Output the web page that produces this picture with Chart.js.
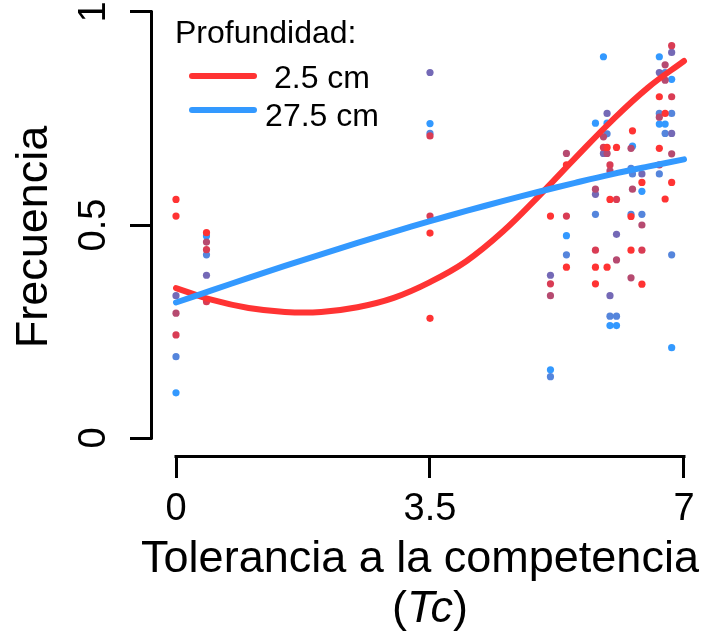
<!DOCTYPE html>
<html>
<head>
<meta charset="utf-8">
<script src="https://cdn.jsdelivr.net/npm/chart.js@4"></script>
<style>
  html, body { margin: 0; padding: 0; background: #fff; }
  canvas { display: block; }
</style>
</head>
<body>
<canvas id="grafica" width="710" height="637"></canvas>
<script>
// ticks de los ejes
const ticksX = [0, 3.5, 7];
const ticksY = [0, 0.5, 1];

// curvas ajustadas
const tcCurva = [0, 0.5, 1, 1.5, 2, 2.5, 3, 3.5, 4, 4.5, 5, 5.5, 6, 6.5, 7];
const curva25 = [0.352, 0.324, 0.305, 0.296, 0.296, 0.307, 0.329, 0.366, 0.415, 0.484, 0.568, 0.657, 0.744, 0.822, 0.885];
const curva275 = [0.318, 0.347, 0.376, 0.404, 0.431, 0.458, 0.484, 0.509, 0.533, 0.556, 0.578, 0.599, 0.619, 0.637, 0.654];
const profundidades = ['2.5 cm', '27.5 cm'];

// puntos observados [Tc, frecuencia], agrupados por color
const ptsRojo = [[0, 0.560], [0, 0.521], [0.42, 0.482], [3.5, 0.481], [3.5, 0.281], [5.16, 0.521], [5.38, 0.641], [5.38, 0.401],
  [5.78, 0.401], [5.78, 0.362], [5.94, 0.682], [5.94, 0.401], [5.98, 0.560], [6.07, 0.682], [6.29, 0.721], [6.27, 0.52],
  [6.27, 0.441], [6.42, 0.600], [6.42, 0.361], [6.66, 0.801], [6.66, 0.680], [6.74, 0.762], [6.74, 0.561], [6.83, 0.600]];
const ptsRojoMalva = [[0, 0.242], [0.42, 0.442], [0.42, 0.32], [3.5, 0.709], [3.5, 0.521], [5.16, 0.362], [5.38, 0.521],
  [5.78, 0.441], [5.89, 0.682], [5.98, 0.641], [6.07, 0.560], [6.42, 0.441], [6.83, 0.921], [6.83, 0.801]];
const ptsMalva = [[0, 0.293], [0.42, 0.460], [5.16, 0.334], [5.38, 0.668], [5.78, 0.584], [5.89, 0.707], [5.94, 0.668],
  [5.98, 0.627], [6.07, 0.418], [6.27, 0.680], [6.29, 0.584], [6.27, 0.376], [6.42, 0.500], [6.66, 0.753], [6.66, 0.641],
  [6.74, 0.876], [6.74, 0.840], [6.83, 0.667]];
const ptsMorado = [[0, 0.334], [0.42, 0.382], [3.5, 0.858], [5.16, 0.382], [5.78, 0.572], [5.89, 0.668], [5.94, 0.762],
  [5.98, 0.334], [6.07, 0.478], [6.42, 0.620], [6.66, 0.858], [6.83, 0.905], [6.83, 0.715]];
const ptsAzulMorado = [[0, 0.191], [0.42, 0.430], [3.5, 0.715], [5.16, 0.144], [5.38, 0.430], [5.78, 0.525], [5.94, 0.714],
  [5.98, 0.286], [6.07, 0.286], [6.27, 0.633], [6.29, 0.620], [6.27, 0.525], [6.42, 0.525], [6.66, 0.762], [6.66, 0.620],
  [6.74, 0.858], [6.74, 0.715], [6.83, 0.762], [6.83, 0.430]];
const ptsAzul = [[0, 0.106], [0.42, 0.474], [3.5, 0.738], [5.16, 0.160], [5.38, 0.475], [5.78, 0.739], [5.89, 0.895],
  [5.94, 0.739], [5.98, 0.264], [6.07, 0.264], [6.29, 0.685], [6.42, 0.579], [6.66, 0.895], [6.66, 0.737], [6.74, 0.737],
  [6.83, 0.842], [6.83, 0.212]];

const rojo = '#ff3333';
const azul = '#3399ff';
const grupos = [
  [ptsRojo, '#ff3333'],
  [ptsRojoMalva, '#d93c54'],
  [ptsMalva, '#b64a70'],
  [ptsMorado, '#7469b6'],
  [ptsAzulMorado, '#5585dc'],
  [ptsAzul, '#3399ff']
];

const fuente = '"Liberation Sans", Arial, Helvetica, sans-serif';

const decoracion = {
  id: 'decoracion',
  afterDraw(chart) {
    const { ctx, chartArea, scales: { x, y } } = chart;
    ctx.save();
    // lineas de los ejes, solo entre el primer y ultimo tick (estilo R)
    ctx.strokeStyle = '#000';
    ctx.lineWidth = 3;
    ctx.lineCap = 'square';
    const yb = chartArea.bottom + 0.5;
    ctx.beginPath();
    ctx.moveTo(x.getPixelForValue(ticksX[0]), yb);
    ctx.lineTo(x.getPixelForValue(ticksX[ticksX.length - 1]), yb);
    ctx.stroke();
    const xl = chartArea.left - 0.5;
    ctx.beginPath();
    ctx.moveTo(xl, y.getPixelForValue(ticksY[0]));
    ctx.lineTo(xl, y.getPixelForValue(ticksY[ticksY.length - 1]));
    ctx.stroke();

    // titulos
    ctx.fillStyle = '#000';
    ctx.font = '45px ' + fuente;
    ctx.textAlign = 'center';
    ctx.textBaseline = 'alphabetic';
    ctx.fillText('Tolerancia a la competencia', 420, 572);
    const fNormal = '45px ' + fuente;
    const fItal = 'italic 45px ' + fuente;
    ctx.font = fNormal;
    const wA = ctx.measureText('(').width;
    const wC = ctx.measureText(')').width;
    ctx.font = fItal;
    const wT = ctx.measureText('Tc').width;
    let px = 430 - (wA + wT + wC) / 2;
    ctx.textAlign = 'left';
    ctx.font = fNormal; ctx.fillText('(', px, 622); px += wA;
    ctx.font = fItal; ctx.fillText('Tc', px, 622); px += wT;
    ctx.font = fNormal; ctx.fillText(')', px, 622);

    ctx.save();
    ctx.translate(47, 237);
    ctx.rotate(-Math.PI / 2);
    ctx.textAlign = 'center';
    ctx.font = fNormal;
    ctx.fillText('Frecuencia', 0, 0);
    ctx.restore();

    // leyenda
    ctx.font = '32px ' + fuente;
    ctx.textAlign = 'left';
    ctx.fillText('Profundidad:', 175, 43);
    const filas = [[rojo, 76, 88], [azul, 110, 126]];
    ctx.lineWidth = 6;
    ctx.lineCap = 'round';
    ctx.textAlign = 'center';
    filas.forEach(([col, ly, by], i) => {
      ctx.strokeStyle = col;
      ctx.beginPath();
      ctx.moveTo(192, ly);
      ctx.lineTo(254, ly);
      ctx.stroke();
      ctx.fillText(profundidades[i], 322, by);
    });
    ctx.restore();
  }
};

const datasets = grupos.map(([pts, col]) => ({
  type: 'scatter',
  data: pts.map(([tc, f]) => ({ x: tc, y: f })),
  backgroundColor: col,
  borderWidth: 0,
  pointRadius: 3.6,
  order: 2
}));

[[curva25, rojo, 1], [curva275, azul, 0]].forEach(([vals, col, ord]) => {
  datasets.push({
    type: 'line',
    data: tcCurva.map((tc, i) => ({ x: tc, y: vals[i] })),
    borderColor: col,
    borderWidth: 6,
    pointRadius: 0,
    tension: 0.4,
    borderCapStyle: 'round',
    fill: false,
    order: ord
  });
});

new Chart(document.getElementById('grafica'), {
  type: 'scatter',
  data: { datasets },
  options: {
    responsive: false,
    animation: false,
    devicePixelRatio: 1,
    layout: { padding: 0, autoPadding: false },
    plugins: {
      legend: { display: false },
      tooltip: { enabled: false }
    },
    scales: {
      x: {
        type: 'linear',
        min: -24 / 72.5714,
        max: 7 + 26 / 72.5714,
        afterBuildTicks: s => { s.ticks = ticksX.map(v => ({ value: v })); },
        afterFit: s => { s.height = 181; s.paddingLeft = 0; s.paddingRight = 0; },
        border: { display: false },
        grid: { drawOnChartArea: false, drawTicks: true, tickLength: 22, tickWidth: 3, tickColor: '#000' },
        ticks: {
          autoSkip: false,
          maxRotation: 0,
          padding: 9,
          color: '#000',
          font: { family: fuente, size: 38 },
          callback: v => String(v)
        }
      },
      y: {
        type: 'linear',
        min: -18 / 426,
        max: 1 + 12 / 426,
        afterBuildTicks: s => { s.ticks = ticksY.map(v => ({ value: v })); },
        afterFit: s => { s.width = 152; s.paddingTop = 0; s.paddingBottom = 0; },
        border: { display: false },
        grid: { drawOnChartArea: false, drawTicks: true, tickLength: 22, tickWidth: 3, tickColor: '#000' },
        ticks: {
          autoSkip: false,
          minRotation: 90,
          maxRotation: 90,
          crossAlign: 'center',
          padding: 9,
          color: '#000',
          font: { family: fuente, size: 38 },
          callback: v => String(v)
        }
      }
    }
  },
  plugins: [decoracion]
});
</script>
</body>
</html>
